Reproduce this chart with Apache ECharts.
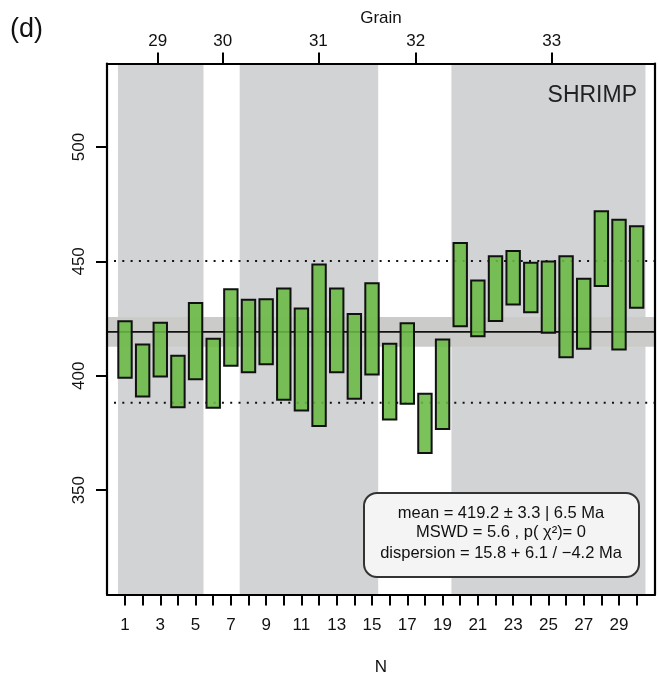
<!DOCTYPE html>
<html>
<head>
<meta charset="utf-8">
<script src="https://cdn.jsdelivr.net/npm/echarts@6/dist/echarts.min.js"></script>
<style>
html,body{margin:0;padding:0;background:#fff;}
#c{width:659px;height:677px;}
</style>
</head>
<body>
<div id="c"></div>
<script>
// ---- data ----
const aliquots = [1,2,3,4,5,6,7,8,9,10,11,12,13,14,15,16,17,18,19,20,21,22,23,24,25,26,27,28,29,30];
const lower = [399.1,391.0,399.7,386.3,398.5,386.0,404.4,401.6,405.0,389.5,384.8,378.0,401.6,390.0,400.6,380.9,387.8,366.3,376.7,421.6,417.3,423.9,431.2,427.8,418.8,408.1,411.8,439.2,411.5,429.7];
const upper = [423.8,413.7,423.2,408.8,431.8,416.2,437.8,433.2,433.5,438.1,429.4,448.6,438.1,427.0,440.5,414.0,423.0,392.1,415.9,458.0,441.7,452.2,454.5,449.4,450.0,452.2,442.4,471.9,468.2,465.4];
const grainNames = ['29','30','31','32','33'];
const grainTickPos = [2.85,6.54,11.96,17.48,25.19];
const bandStart = [0.6,7.5,19.5];
const bandEnd = [5.45,15.35,30.5];
const yTicks = [350,400,450,500];
const xTicks = [1,2,3,4,5,6,7,8,9,10,11,12,13,14,15,16,17,18,19,20,21,22,23,24,25,26,27,28,29,30];
const xLabels = [1,3,5,7,9,11,13,15,17,19,21,23,25,27,29];
const meanAge = [419.2];
const meanBand = [412.7, 425.7];
const dispersionLines = [388.2, 450.2];
const legendLines = [
  'mean = 419.2 \u00b1 3.3 | 6.5 Ma',
  'MSWD = 5.6 , p( \u03c7\u00b2)= 0',
  'dispersion = 15.8 + 6.1 / \u22124.2 Ma'
];

// ---- axis limits ----
const X_MIN = -0.02, X_MAX = 31.04;
const Y_MIN = 304.4, Y_MAX = 536.5;
const FONT = '"Liberation Sans", Arial, sans-serif';

const chart = echarts.init(document.getElementById('c'), null, {renderer:'canvas'});

const barData = aliquots.map((n,i)=>[n, lower[i], upper[i]]);
const bandData = bandStart.map((s,i)=>[s, bandEnd[i]]);

const option = {
  backgroundColor: '#ffffff',
  animation: false,
  grid: {left:107, top:63.5, width:548, height:531, containLabel:false, outerBoundsMode:'none'},
  xAxis: [
    {
      type:'value', position:'bottom', min:X_MIN, max:X_MAX, z:10,
      name:'N', nameLocation:'middle', nameGap:64,
      nameTextStyle:{fontFamily:FONT, fontSize:17, color:'#111', verticalAlign:'top'},
      axisLine:{show:true, onZero:false, lineStyle:{color:'#000', width:2.2}},
      axisTick:{show:true, inside:false, length:11, customValues:xTicks, lineStyle:{color:'#000', width:2}},
      axisLabel:{show:true, customValues:xLabels, margin:22, fontFamily:FONT, fontSize:17, color:'#111'},
      splitLine:{show:false}
    },
    {
      type:'value', position:'top', min:X_MIN, max:X_MAX, z:10,
      name:'Grain', nameLocation:'middle', nameGap:37,
      nameTextStyle:{fontFamily:FONT, fontSize:17, color:'#111'},
      axisLine:{show:true, onZero:false, lineStyle:{color:'#000', width:2.2}},
      axisTick:{show:true, inside:false, length:11, customValues:grainTickPos, lineStyle:{color:'#000', width:2}},
      axisLabel:{show:true, customValues:grainTickPos, margin:14, fontFamily:FONT, fontSize:17, color:'#111',
        formatter:function(v){ const i = grainTickPos.findIndex(p=>Math.abs(p-v)<1e-6); return i>=0 ? grainNames[i] : ''; }},
      splitLine:{show:false}
    }
  ],
  yAxis: [
    {
      type:'value', position:'left', min:Y_MIN, max:Y_MAX, z:10,
      axisLine:{show:true, onZero:false, lineStyle:{color:'#000', width:2.2}},
      axisTick:{show:true, inside:false, length:11, customValues:yTicks, lineStyle:{color:'#000', width:2}},
      axisLabel:{show:true, customValues:yTicks, rotate:90, margin:19, fontFamily:FONT, fontSize:17, color:'#111'},
      splitLine:{show:false}
    },
    {
      type:'value', position:'right', min:Y_MIN, max:Y_MAX, z:10,
      axisLine:{show:true, onZero:false, lineStyle:{color:'#000', width:2.2}},
      axisTick:{show:false}, axisLabel:{show:false}, splitLine:{show:false}
    }
  ],
  series: [
    {
      type:'custom', name:'grain bands', z:1, silent:true,
      xAxisIndex:0, yAxisIndex:0,
      data: bandData,
      renderItem: function(params, api){
        const p1 = api.coord([api.value(0), Y_MAX]);
        const p2 = api.coord([api.value(1), Y_MIN]);
        return {type:'rect', shape:{x:p1[0], y:p1[1], width:p2[0]-p1[0], height:p2[1]-p1[1]},
          style:{fill:'#d2d3d5'}};
      }
    },
    {
      type:'custom', name:'mean band', z:2, silent:true,
      xAxisIndex:0, yAxisIndex:0,
      data: [meanBand],
      renderItem: function(params, api){
        const p1 = api.coord([X_MIN, api.value(1)]);
        const p2 = api.coord([X_MAX, api.value(0)]);
        return {type:'rect', shape:{x:p1[0], y:p1[1], width:p2[0]-p1[0], height:p2[1]-p1[1]},
          style:{fill:'#cbcbc9'}};
      }
    },
    {
      type:'custom', name:'mean', z:3, silent:true,
      xAxisIndex:0, yAxisIndex:0,
      data: meanAge.map(v=>[v]),
      renderItem: function(params, api){
        const p1 = api.coord([X_MIN, api.value(0)]);
        const p2 = api.coord([X_MAX, api.value(0)]);
        return {type:'line', shape:{x1:p1[0], y1:p1[1], x2:p2[0], y2:p2[1]},
          style:{stroke:'#111', lineWidth:1.8}};
      }
    },
    {
      type:'custom', name:'dispersion', z:3, silent:true,
      xAxisIndex:0, yAxisIndex:0,
      data: dispersionLines.map(v=>[v]),
      renderItem: function(params, api){
        const p1 = api.coord([X_MIN, api.value(0)]);
        const p2 = api.coord([X_MAX, api.value(0)]);
        return {type:'line', shape:{x1:p1[0]+7, y1:p1[1], x2:p2[0], y2:p2[1]},
          style:{stroke:'#111', lineWidth:2, lineDash:[2,6.3]}};
      }
    },
    {
      type:'custom', name:'aliquots', z:4,
      xAxisIndex:0, yAxisIndex:0,
      data: barData,
      encode:{x:0, y:[1,2]},
      renderItem: function(params, api){
        const x = api.value(0);
        const p1 = api.coord([x-0.38, api.value(2)]);
        const p2 = api.coord([x+0.38, api.value(1)]);
        return {type:'rect', shape:{x:p1[0], y:p1[1], width:p2[0]-p1[0], height:p2[1]-p1[1]},
          style:{fill:'rgba(104,186,66,0.88)', stroke:'#111', lineWidth:2}};
      }
    }
  ],
  graphic: [
    {type:'text', left:10, top:16, z:20,
      style:{text:'(d)', font:'27px '+FONT, fill:'#111'}},
    {type:'text', right:22, top:84, z:20,
      style:{text:'SHRIMP', font:'23px '+FONT, fill:'#222', textAlign:'right'}},
    {type:'rect', z:20, shape:{x:364, y:493, width:275, height:84, r:13},
      style:{fill:'#f3f4f3', stroke:'#333', lineWidth:2}},
    {type:'text', z:21, x:501, y:513,
      style:{text:legendLines[0], font:'16.5px '+FONT, fill:'#111', textAlign:'center', textVerticalAlign:'middle'}},
    {type:'text', z:21, x:501, y:532,
      style:{text:legendLines[1], font:'16.5px '+FONT, fill:'#111', textAlign:'center', textVerticalAlign:'middle'}},
    {type:'text', z:21, x:501, y:553,
      style:{text:legendLines[2], font:'16.5px '+FONT, fill:'#111', textAlign:'center', textVerticalAlign:'middle'}}
  ]
};
chart.setOption(option);
</script>
</body>
</html>
